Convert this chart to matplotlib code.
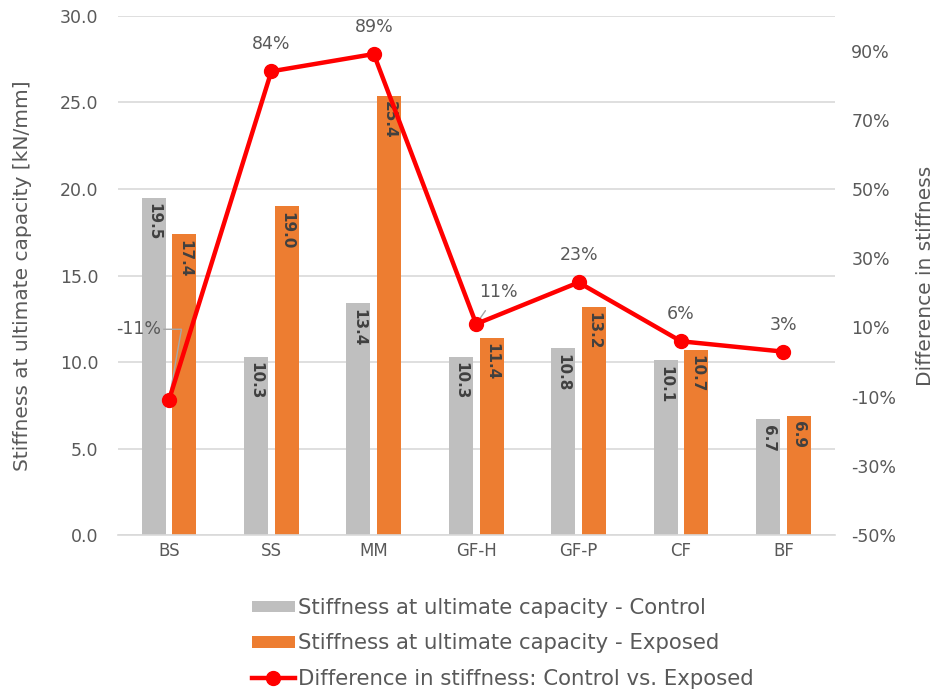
import matplotlib
matplotlib.use("Agg")
import matplotlib.pyplot as plt
import numpy as np
from matplotlib.ticker import FuncFormatter, MultipleLocator

categories = ["BS", "SS", "MM", "GF-H", "GF-P", "CF", "BF"]
control = [19.5, 10.3, 13.4, 10.3, 10.8, 10.1, 6.7]
exposed = [17.4, 19.0, 25.4, 11.4, 13.2, 10.7, 6.9]
diff_pct = [-11, 84, 89, 11, 23, 6, 3]

plt.rcParams['font.family'] = ['DejaVu Sans']
txt = '#595959'

fig = plt.figure(figsize=(9.42, 6.94), dpi=100)
ax = fig.add_axes([0.125, 0.229, 0.761, 0.748])
ax2 = ax.twinx()

x = np.arange(len(categories))
w = 0.235
off = 0.15
b1 = ax.bar(x - off, control, w, color='#bfbfbf', label='Stiffness at ultimate capacity - Control', zorder=2)
b2 = ax.bar(x + off, exposed, w, color='#ed7d31', label='Stiffness at ultimate capacity - Exposed', zorder=2)

for bars, vals in ((b1, control), (b2, exposed)):
    for r, v in zip(bars, vals):
        ax.annotate(f"{v:.1f}", (r.get_x() + r.get_width() / 2, v), xytext=(0, -4),
                    textcoords='offset points', rotation=-90, ha='center', va='top',
                    fontsize=11, fontweight='bold', color='#404040', zorder=3)

ax.set_xlim(-0.5, len(categories) - 0.5)
ax.set_ylim(0, 30)
ax.yaxis.set_major_locator(MultipleLocator(5))
ax.yaxis.set_major_formatter(FuncFormatter(lambda v, p: f"{v:.1f}"))
ax.grid(axis='y', color='#d9d9d9', linewidth=1.2, zorder=0)
ax.set_axisbelow(True)
for s in ['top', 'right', 'left']:
    ax.spines[s].set_visible(False)
ax.spines['bottom'].set_color('#d9d9d9')
ax.spines['bottom'].set_linewidth(1.2)
ax.set_xticks(x)
ax.set_xticklabels(categories)
ax.tick_params(axis='x', length=0, colors=txt, labelsize=12, pad=5)
ax.tick_params(axis='y', length=0, colors=txt, labelsize=12.5, pad=14)
ax.set_ylabel("Stiffness at ultimate capacity [kN/mm]", color=txt, fontsize=14.5, labelpad=20)

pct = [d / 100 for d in diff_pct]
line, = ax2.plot(x, pct, color='#ff0000', linewidth=3.2, marker='o', markersize=10,
                 label='Difference in stiffness: Control vs. Exposed', zorder=5)
ax2.set_ylim(-0.5, 1.0)
ax2.set_yticks([-0.5, -0.3, -0.1, 0.1, 0.3, 0.5, 0.7, 0.9])
ax2.yaxis.set_major_formatter(FuncFormatter(lambda v, p: f"{round(v*100):d}%"))
for s in ax2.spines.values():
    s.set_visible(False)
ax2.tick_params(axis='y', length=0, colors=txt, labelsize=12.5, pad=12)
ax2.set_ylabel("Difference in stiffness", color=txt, fontsize=14.5, labelpad=14)

for i, (xi, p, d) in enumerate(zip(x, pct, diff_pct)):
    if i == 0:
        ax2.annotate(f"{d}%", (xi, p), xytext=(-22, 51), textcoords='offset points',
                     ha='center', va='center', fontsize=12.5, color=txt,
                     arrowprops=dict(arrowstyle='-', color='#a6a6a6', lw=1,
                                     connectionstyle='angle,angleA=0,angleB=80,rad=0',
                                     shrinkA=0, shrinkB=2))
    elif i == 3:
        ax2.annotate(f"{d}%", (xi, p), xytext=(16, 23), textcoords='offset points',
                     ha='center', va='center', fontsize=12.5, color=txt,
                     arrowprops=dict(arrowstyle='-', color='#a6a6a6', lw=1, shrinkA=6, shrinkB=2))
    else:
        ax2.annotate(f"{d}%", (xi, p), xytext=(0, 13), textcoords='offset points',
                     ha='center', va='bottom', fontsize=12.5, color=txt)

handles = [b1, b2, line]
leg = fig.legend(handles, [h.get_label() for h in handles], loc='lower left',
                 bbox_to_anchor=(0.262, 0.0), ncol=1, frameon=False, fontsize=15.3,
                 labelcolor=txt, handlelength=2.0, handleheight=0.47, handletextpad=0.15,
                 labelspacing=0.72, borderpad=0.25, borderaxespad=0)

fig.savefig("out.png", dpi=100)
